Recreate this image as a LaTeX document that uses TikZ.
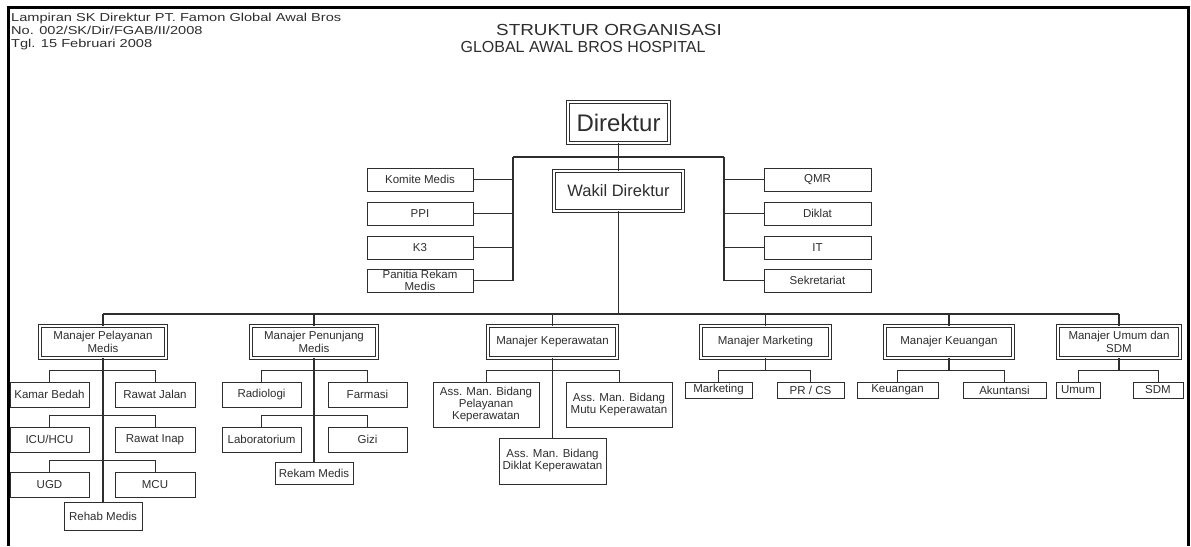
\documentclass[tikz,border=0pt]{standalone}
\usepackage{fontspec}
\setmainfont{Liberation Sans}
\usepackage{graphicx}
\usetikzlibrary{calc}
\definecolor{ink}{gray}{0.18}
\tikzstyle{trunk}=[line width=1.4pt,ink]
\tikzstyle{branch}=[line width=1pt,ink]
\tikzstyle{unitbox}=[draw=ink,line width=0.9pt,inner sep=0pt,align=center,text=ink,font=\fontsize{11.5}{12}\selectfont]
\tikzstyle{chiefbox}=[draw=ink,double=white,double distance=2pt,line width=0.8pt,inner sep=0pt,align=center,text=ink]
\tikzstyle{mgrbox}=[chiefbox,font=\fontsize{11.5}{12.5}\selectfont]
\tikzstyle{header}=[anchor=base west,inner sep=0pt,text=ink,font=\fontsize{11.5}{13}\selectfont]
\newcommand{\placebox}[7]{
\pgfmathsetmacro{\cx}{(#3+#5)/2}
\pgfmathsetmacro{\cy}{(#4+#6)/2}
\pgfmathsetmacro{\bw}{#5-#3}
\pgfmathsetmacro{\bh}{#6-#4}
\node[#1,minimum width=\bw pt,minimum height=\bh pt] (#2) at (\cx,\cy) {#7};
}
\newcommand{\drawpair}[2]{
\draw[branch] (#1.north) -- ++(0,-11) coordinate (pairtop) -| (#2.north);
}
\begin{document}
\begin{tikzpicture}[x=1pt,y=-1pt]
\useasboundingbox (0,0) rectangle (1191,546);
\fill[white] (0,0) rectangle (1191,546);
% frame
\draw[line width=3pt] (8,546) -- (8,7) -- (1188,7) -- (1188,546);
% heading
\node[header] (lamp) at (11,21) {\scalebox{1.27}[1]{Lampiran SK Direktur PT. Famon Global Awal Bros}};
\node[header] (nosk) at (11,34) {\scalebox{1.27}[1]{No. 002/SK/Dir/FGAB/II/2008}};
\node[header] (tgl) at (11,47) {\scalebox{1.27}[1]{Tgl. 15 Februari 2008}};
\node[text=ink,font=\fontsize{16}{16}\selectfont] (judul) at (609,30) {\scalebox{1.18}[1]{STRUKTUR ORGANISASI}};
\node[text=ink,font=\fontsize{16}{16}\selectfont] (rs) at (583,47) {GLOBAL AWAL BROS HOSPITAL};
% direksi
\placebox{chiefbox}{dir}{568}{102}{669}{143}{\fontsize{24}{24}\selectfont Direktur}
\placebox{chiefbox}{wakil}{554}{171}{683}{211}{\fontsize{16.5}{17}\selectfont Wakil Direktur}
% staff
\foreach \nm/\yy/\txt in {komite/168/Komite Medis,ppi/202/PPI,kk/236/K3,panitia/269/{Panitia Rekam\\Medis}}
  \placebox{unitbox}{\nm}{367}{\yy}{473}{\yy+23}{\txt};
\foreach \nm/\yy/\txt in {qmr/168/QMR,diklat/202/Diklat,it/236/IT,sekre/269/Sekretariat}
  \placebox{unitbox}{\nm}{764}{\yy}{871}{\yy+23}{\txt};
\coordinate (lbus) at (513,157);
\coordinate (rbus) at (724,157);
\draw[trunk] (dir.south) -- (wakil.north);
\draw[trunk] (lbus) -- (rbus);
\draw[trunk] (lbus) |- (panitia.east);
\draw[trunk] (rbus) |- (sekre.west);
\foreach \nm in {komite,ppi,kk} \draw[branch] (\nm.east) -- (\nm.east -| lbus);
\foreach \nm in {qmr,diklat,it} \draw[branch] (\nm.west) -- (\nm.west -| rbus);
% managers
\placebox{mgrbox}{mpel}{40}{326}{166}{358}{Manajer Pelayanan\\Medis}
\placebox{mgrbox}{mpen}{251}{326}{377}{358}{Manajer Penunjang\\Medis}
\placebox{mgrbox}{mkep}{488}{326}{617}{358}{Manajer Keperawatan}
\placebox{mgrbox}{mmar}{701}{326}{830}{358}{Manajer Marketing}
\placebox{mgrbox}{mkeu}{885}{326}{1013}{358}{Manajer Keuangan}
\placebox{mgrbox}{mumu}{1058}{326}{1180}{358}{Manajer Umum dan\\SDM}
\coordinate (mbus) at (618,314);
\draw[trunk] (wakil.south) -- (wakil.south |- mbus);
\draw[trunk] (mpel.north |- mbus) -- (mumu.north |- mbus);
\foreach \nm in {mpel,mpen,mkep,mmar,mkeu,mumu} \draw[trunk] (\nm.north) -- (\nm.north |- mbus);
% pelayanan medis
\placebox{unitbox}{kamar}{10}{382}{89}{407}{Kamar Bedah}
\placebox{unitbox}{jalan}{115}{382}{195}{407}{Rawat Jalan}
\placebox{unitbox}{icu}{10}{427}{89}{452}{ICU/HCU}
\placebox{unitbox}{inap}{115}{427}{195}{452}{Rawat Inap}
\placebox{unitbox}{ugd}{10}{472}{89}{497}{UGD}
\placebox{unitbox}{mcu}{115}{472}{195}{497}{MCU}
\placebox{unitbox}{rehab}{64}{502}{142}{530}{Rehab Medis}
\draw[trunk] (mpel.south) -- (rehab.north);
\drawpair{kamar}{jalan}
\drawpair{icu}{inap}
\drawpair{ugd}{mcu}
% penunjang medis
\placebox{unitbox}{radio}{222}{382}{301}{407}{Radiologi}
\placebox{unitbox}{farmasi}{328}{382}{407}{407}{Farmasi}
\placebox{unitbox}{lab}{222}{427}{301}{452}{Laboratorium}
\placebox{unitbox}{gizi}{328}{427}{407}{452}{Gizi}
\placebox{unitbox}{rekam}{275}{462}{353}{484}{Rekam Medis}
\draw[trunk] (mpen.south) -- (rekam.north);
\drawpair{radio}{farmasi}
\drawpair{lab}{gizi}
% keperawatan
\placebox{unitbox}{askpel}{433}{382}{539}{427}{Ass. Man. Bidang\\Pelayanan\\Keperawatan}
\placebox{unitbox}{asmutu}{566}{382}{672}{427}{Ass. Man. Bidang\\Mutu Keperawatan}
\placebox{unitbox}{asdik}{499}{438}{606}{484}{Ass. Man. Bidang\\Diklat Keperawatan}
\draw[trunk] (mkep.south) -- (asdik.north);
\drawpair{askpel}{asmutu}
% marketing, keuangan, umum
\placebox{unitbox}{mkt}{685}{382}{752}{398}{Marketing}
\placebox{unitbox}{prcs}{777}{382}{844}{398}{PR / CS}
\drawpair{mkt}{prcs}
\draw[trunk] (mmar.south) -- (mmar.south |- pairtop);
\placebox{unitbox}{keu}{857}{382}{938}{398}{Keuangan}
\placebox{unitbox}{akun}{963}{382}{1046}{398}{Akuntansi}
\drawpair{keu}{akun}
\draw[trunk] (mkeu.south) -- (mkeu.south |- pairtop);
\placebox{unitbox}{umum}{1056}{382}{1100}{398}{Umum}
\placebox{unitbox}{sdm}{1133}{382}{1183}{398}{SDM}
\drawpair{umum}{sdm}
\draw[trunk] (mumu.south) -- (mumu.south |- pairtop);
\end{tikzpicture}
\end{document}
